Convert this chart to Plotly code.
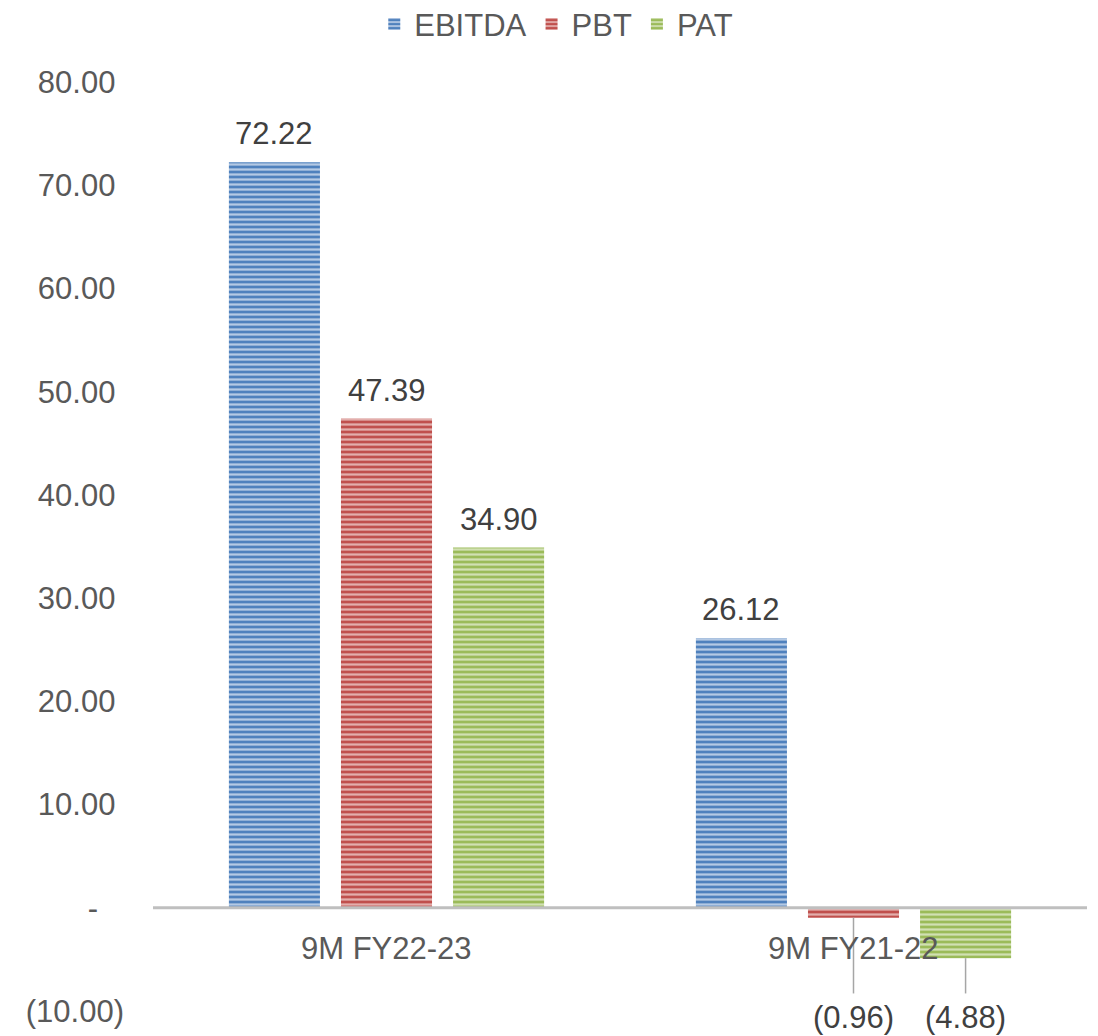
import plotly.graph_objects as go

categories = ["9M FY22-23", "9M FY21-22"]
series_names = ["EBITDA", "PBT", "PAT"]
ebitda = [72.22, 26.12]
pbt = [47.39, -0.96]
pat = [34.90, -4.88]
series_values = [ebitda, pbt, pat]
y_tick_vals = [80, 70, 60, 50, 40, 30, 20, 10, 0, -10]
y_tick_text = ["80.00", "70.00", "60.00", "50.00", "40.00", "30.00", "20.00", "10.00", "-", "(10.00)"]

colors = ["#4F81BD", "#C0504D", "#9BBB59"]
stripe = ["#B4C9E4", "#E3AEAC", "#D1E0B2"]
FONT = "Liberation Sans, Arial, sans-serif"
FS = 31

def fmt(v):
    return f"({abs(v):.2f})" if v < 0 else f"{v:.2f}"

def pad_tick(t):
    if t.startswith("("):
        return t
    if t == "-":
        return t + "\u00a0" * 3
    return t + "\u00a0"

fig = go.Figure()
for name, vals, c, s in zip(series_names, series_values, colors, stripe):
    fig.add_trace(go.Bar(
        name=name, x=categories, y=vals,
        marker=dict(color=c, line=dict(width=0),
                    pattern=dict(shape="-", size=5, solidity=0.45,
                                 fgcolor=s, bgcolor=c, fillmode="replace")),
    ))

bargap = 0.28
n = len(series_names)
slot = (1 - bargap) / n
annotations = []
shapes = []
for si, vals in enumerate(series_values):
    off = (si - (n - 1) / 2) * slot
    for ci, v in enumerate(vals):
        if v >= 0:
            annotations.append(dict(x=ci + off, y=v, xref="x", yref="y", text=fmt(v),
                                    showarrow=False, yanchor="bottom", yshift=9,
                                    font=dict(family=FONT, size=FS, color="#404040")))
        else:
            annotations.append(dict(x=ci + off, y=-10, xref="x", yref="y", text=fmt(v),
                                    showarrow=False, yanchor="middle", yshift=-6,
                                    font=dict(family=FONT, size=FS, color="#404040")))
            shapes.append(dict(type="line", xref="x", yref="y", x0=ci + off, x1=ci + off,
                               y0=v, y1=-8.3, line=dict(color="#A6A6A6", width=1.5)))

for ci, cat in enumerate(categories):
    annotations.append(dict(x=ci, y=0, xref="x", yref="y", text=cat, showarrow=False,
                            yanchor="top", yshift=-21,
                            font=dict(family=FONT, size=FS, color="#595959")))

shapes.append(dict(type="line", xref="paper", yref="y", x0=0, x1=1, y0=0, y1=0,
                   line=dict(color="#BFBFBF", width=3), layer="above"))

fig.update_layout(
    width=1090, height=1028,
    margin=dict(l=145, r=11, t=74, b=25, autoexpand=False),
    paper_bgcolor="white", plot_bgcolor="white",
    barmode="group", bargap=bargap, bargroupgap=0.1875,
    font=dict(family=FONT, size=FS, color="#595959"),
    legend=dict(orientation="h", x=0.503, xref="container", xanchor="center",
                y=0.984, yref="container", yanchor="middle",
                font=dict(family=FONT, size=FS, color="#595959"),
                itemwidth=30, tracegroupgap=0),
    xaxis=dict(showticklabels=False, showgrid=False, zeroline=False, showline=False,
               range=[-0.5, 1.5], automargin=False),
    yaxis=dict(range=[-10, 80], tickvals=y_tick_vals,
               ticktext=[pad_tick(t) for t in y_tick_text],
               showgrid=False, zeroline=False, showline=False, ticks="",
               ticklabelstandoff=28, automargin=False,
               tickfont=dict(family=FONT, size=FS, color="#595959")),
    annotations=annotations, shapes=shapes,
)

fig.write_html("out.html")
